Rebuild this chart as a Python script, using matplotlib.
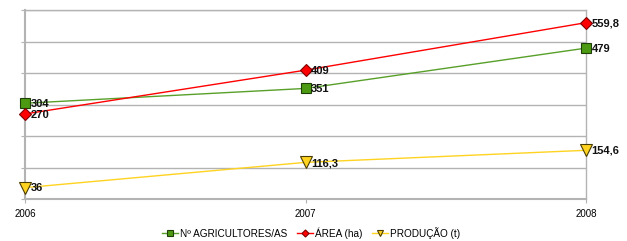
import matplotlib
matplotlib.use("Agg")
import matplotlib.pyplot as plt

years = [2006, 2007, 2008]
year_labels = ["2006", "2007", "2008"]
agricultores = [304, 351, 479]
area = [270, 409, 559.8]
producao = [36, 116.3, 154.6]
agric_labels = ["304", "351", "479"]
area_labels = ["270", "409", "559,8"]
prod_labels = ["36", "116,3", "154,6"]

plt.rcParams['font.family'] = ['Liberation Sans', 'DejaVu Sans']

fig = plt.figure(figsize=(6.27, 2.41), dpi=100)
ax = fig.add_axes([25/627, 42/241, 561/627, 189/241])

ax.plot(years, agricultores, color='#58a02a', lw=1, marker='s', ms=7,
        mfc='#4c9a12', mec='#1f3f08', mew=0.8, label='Nº AGRICULTORES/AS', zorder=3, clip_on=False)
ax.plot(years, area, color='#ff0000', lw=1, marker='D', ms=6,
        mfc='#ff0000', mec='#800000', mew=0.8, label='ÁREA (ha)', zorder=3, clip_on=False)
ax.plot(years, producao, color='#ffd320', lw=1, marker='v', ms=8,
        mfc='#ffd320', mec='#4a3d00', mew=0.8, label='PRODUÇÃO (t)', zorder=3, clip_on=False)

for ys, labs in [(agricultores, agric_labels), (area, area_labels), (producao, prod_labels)]:
    for x, y, l in zip(years, ys, labs):
        ax.annotate(l, (x, y), xytext=(4, -0.5), textcoords='offset points',
                    ha='left', va='center', fontsize=8, fontweight='bold', color='#111111',
                    zorder=4, annotation_clip=False)

ax.set_xlim(2006, 2008)
ax.set_ylim(0, 600)
ax.set_yticks(range(0, 601, 100))
ax.yaxis.grid(True, color='#b3b3b3', lw=1)
ax.set_axisbelow(True)
ax.tick_params(axis='y', left=True, length=3, color='#b3b3b3', labelleft=False)
ax.set_xticks(years)
ax.set_xticklabels(year_labels, fontsize=7)
ax.tick_params(axis='x', length=3, color='#b3b3b3', pad=4)
for s in ax.spines.values():
    s.set_color('#b3b3b3')
    s.set_linewidth(1)
ax.spines['left'].set_linewidth(1.5)
ax.spines['bottom'].set_linewidth(1.5)

leg = fig.legend(loc='center', bbox_to_anchor=(311/627, 8/241), ncol=3, frameon=False,
                 fontsize=7.2, handlelength=1.6, handletextpad=0.2, columnspacing=1.0,
                 markerscale=0.6)

fig.savefig('out.png', dpi=100)
